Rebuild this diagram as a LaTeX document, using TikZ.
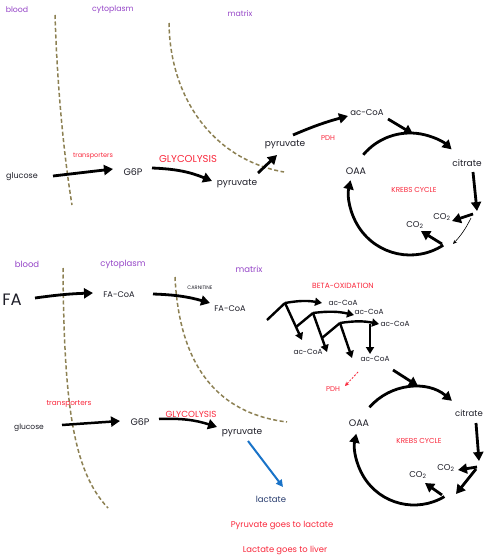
\documentclass[tikz,border=0pt]{standalone}
\usepackage{fontspec}
\setmainfont{Poppins}
\usetikzlibrary{arrows.meta}
\definecolor{membc}{RGB}{140,128,82}
\definecolor{purp}{RGB}{150,70,200}
\definecolor{redt}{RGB}{250,40,60}
\definecolor{txt}{RGB}{30,30,40}
\definecolor{blu}{RGB}{25,115,200}
\definecolor{navy}{RGB}{40,60,110}
\newcommand\fsz[1]{\fontsize{#1}{#1}\selectfont}
\begin{document}
\begin{tikzpicture}[x=1pt,y=-1pt,
  t/.style={inner sep=0pt, text=txt, font=\fsz{8.5}},
  comp/.style={inner sep=0pt, text=purp, font=\fsz{7.8}},
  enz/.style={inner sep=0pt, text=redt, font=\fsz{6.5}},
  memb/.style={draw=membc, line width=1.5pt, dash pattern=on 4pt off 2.5pt},
  arr/.style={draw=black, line width=2.8pt, -{Triangle[length=9pt,width=10pt]}},
  barr/.style={draw=black, line width=2.4pt, line join=round, -{Triangle[length=7pt,width=8pt]}},
  tarr/.style={draw=black, line width=0.6pt, -{Stealth[length=4pt,width=3.5pt]}}
]
\useasboundingbox[fill=white] (0,0) rectangle (489,559);

% membranes
\draw[memb] (55,15) .. controls (57,80) and (63,150) .. (72,205);
\draw[memb] (169,23) .. controls (170,100) and (215,160) .. (284,172);
\draw[memb] (63,268) .. controls (64,400) and (72,470) .. (108,508);
\draw[memb] (175,277) .. controls (180,380) and (230,415) .. (287,422);

% compartments
\node[comp] (bl1) at (17,10) {blood};
\node[comp] (cy1) at (113,10) {cytoplasm};
\node[comp] (mx1) at (240,14) {matrix};
\node[comp, font=\fsz{8.5}] (bl2) at (27,264) {blood};
\node[comp, font=\fsz{8.5}] (cy2) at (123,264) {cytoplasm};
\node[comp, font=\fsz{8.5}] (mx2) at (249,269) {matrix};

% ---------- top panel ----------
\node[t, font=\fsz{8}] (glu1) at (22,177) {glucose};
\node[t, font=\fsz{9.5}] (g6p1) at (133,172) {G6P};
\node[t, font=\fsz{9}] (pyr1) at (237,184) {pyruvate};
\node[t, font=\fsz{9}] (pyr2) at (285,145) {pyruvate};
\node[t] (acoa1) at (367,113) {ac-CoA};
\node[t, font=\fsz{9}] (cit1) at (467,163) {citrate};
\node[t, font=\fsz{9.5}] (oaa1) at (356,171) {OAA};
\node[t] (co2a) at (442,217) {CO\textsubscript{2}};
\node[t] (co2b) at (415,225) {CO\textsubscript{2}};
\node[enz] (tr1) at (93,156) {transporters};
\node[enz, font=\fsz{10}] (gly1) at (188,159) {GLYCOLYSIS};
\node[enz, font=\fsz{7}] (pdh1) at (328,138) {PDH};
\node[enz, font=\fsz{7.2}] (kc1) at (414,190) {KREBS CYCLE};

\coordinate (a1s) at (53,176); \coordinate (a1e) at (113,169);
\draw[arr] (a1s) -- (a1e);
\coordinate (a2s) at (152,168); \coordinate (a2e) at (212,181);
\draw[arr] (a2s) to[bend left=10] (a2e);
\coordinate (a3s) at (258,173); \coordinate (a3e) at (277,155);
\draw[arr] (a3s) -- (a3e);
\coordinate (a4s) at (293,135); \coordinate (a4e) at (348,116);
\draw[arr] (a4s) to[bend left=4] (a4e);
\coordinate (a5s) at (388,119); \coordinate (a5e) at (413,134);
\draw[arr] (a5s) -- (a5e);

\coordinate (K1) at (410,194);
\draw[arr] (K1) ++(-140:61) arc[start angle=-140, end angle=-47, radius=61];
\coordinate (a6s) at (473,172); \coordinate (a6e) at (477,211);
\draw[arr] (a6s) -- (a6e);
\coordinate (a7s) at (473,214); \coordinate (a7e) at (452,221);
\draw[arr] (a7s) -- (a7e);
\coordinate (a8s) at (471,218); \coordinate (a8e) at (453,244);
\draw[tarr] (a8s) to[bend left=8] (a8e);
\draw[arr] (K1) ++(57:61) arc[start angle=57, end angle=193, radius=61];
\coordinate (a9s) at (442,244); \coordinate (a9e) at (421,231);
\draw[arr] (a9s) -- (a9e);

% ---------- bottom panel ----------
\node[t, font=\fsz{16.5}] (fa) at (12,300) {FA};
\node[t, font=\fsz{8.2}] (facoa1) at (119,295) {FA-CoA};
\node[inner sep=0pt, text=txt, font=\fsz{5}] (carn) at (200,288) {CARNITINE};
\node[t, font=\fsz{8.2}] (facoa2) at (230,309) {FA-CoA};
\node[enz, font=\fsz{7.5}] (beta) at (343,286) {BETA-OXIDATION};
\node[t, font=\fsz{7.4}] (ac1) at (343,303) {ac-CoA};
\node[t, font=\fsz{7.4}] (ac2) at (369,312) {ac-CoA};
\node[t, font=\fsz{7.4}] (ac3) at (395,324) {ac-CoA};
\node[t, font=\fsz{7.4}] (ac4) at (308,352) {ac-CoA};
\node[t, font=\fsz{7.4}] (ac5) at (375,359) {ac-CoA};
\node[enz, font=\fsz{7}] (pdh2) at (333,389) {PDH};

\coordinate (b1s) at (35,298); \coordinate (b1e) at (93,293);
\draw[arr] (b1s) to[bend left=3] (b1e);
\coordinate (b2s) at (153,294); \coordinate (b2e) at (210,303);
\draw[arr] (b2s) to[bend left=7] (b2e);

% beta-oxidation spiral
\coordinate (p0) at (267,320);
\coordinate (p1) at (285,303); \coordinate (d1) at (302,340);
\coordinate (p2) at (313,313); \coordinate (d2) at (327,352);
\coordinate (p3) at (340,323); \coordinate (d3) at (352,358);
\coordinate (r1) at (322,303); \coordinate (r2) at (354,315); \coordinate (r3) at (379,324);
\coordinate (v3) at (370,324); \coordinate (v3e) at (370,354);
\draw[barr, -] (p0) -- (p1);
\draw[barr] (p1) to[bend left=10] (r1);
\draw[barr] (p1) -- (d1);
\draw[barr, -] (296,327) -- (p2);
\draw[barr] (p2) to[bend left=10] (r2);
\draw[barr] (p2) -- (d2);
\draw[barr, -] (322,338) -- (p3);
\draw[barr] (p3) to[bend left=10] (r3);
\draw[barr] (p3) -- (d3);
\draw[barr] (v3) -- (v3e);

\coordinate (pd1) at (358,372); \coordinate (pd2) at (345,386);
\draw[draw=redt, line width=0.8pt, dash pattern=on 2pt off 1.5pt, -{Stealth[length=4pt,width=4pt]}] (pd1) -- (pd2);

% lower Krebs
\node[t, font=\fsz{9.5}] (oaa2) at (359,423) {OAA};
\node[t] (cit2) at (469,413) {citrate};
\node[enz, font=\fsz{7.2}] (kc2) at (419,441) {KREBS CYCLE};
\node[t] (co2c) at (446,468) {CO\textsubscript{2}};
\node[t] (co2d) at (418,475) {CO\textsubscript{2}};
\coordinate (K2) at (414,446);
\coordinate (c1s) at (393,370); \coordinate (c1e) at (418,386);
\draw[arr] (c1s) -- (c1e);
\draw[arr] (K2) ++(-139:59) arc[start angle=-139, end angle=-50, radius=59];
\coordinate (c2s) at (476,423); \coordinate (c2e) at (479,461);
\draw[arr] (c2s) -- (c2e);
\coordinate (c3s) at (477,467); \coordinate (c3e) at (458,470);
\draw[arr] (c3s) -- (c3e);
\coordinate (c4s) at (476,469); \coordinate (c4e) at (456,494);
\draw[arr] (c4s) -- (c4e);
\draw[arr] (K2) ++(59:59) arc[start angle=59, end angle=192, radius=59];
\coordinate (c5s) at (442,495); \coordinate (c5e) at (425,483);
\draw[arr] (c5s) -- (c5e);

% lower glycolysis
\node[enz, font=\fsz{7.3}] (tr2) at (69,404) {transporters};
\node[t, font=\fsz{7.5}] (glu2) at (29,428) {glucose};
\node[t, font=\fsz{9.5}] (g6p2) at (140,422) {G6P};
\node[enz, font=\fsz{8.8}] (gly2) at (191,414) {GLYCOLYSIS};
\node[t, font=\fsz{9}] (pyr3) at (242,433) {pyruvate};
\node[t, text=navy] (lac) at (271,499) {lactate};
\coordinate (e1s) at (62,425); \coordinate (e1e) at (120,421);
\draw[arr, line width=2.5pt] (e1s) -- (e1e);
\coordinate (e2s) at (159,419); \coordinate (e2e) at (217,427);
\draw[arr, line width=2.5pt] (e2s) to[bend left=10] (e2e);
\coordinate (e3s) at (248,441); \coordinate (e3e) at (283,487);
\draw[draw=blu, line width=2pt, -{Triangle[length=7pt,width=7pt]}] (e3s) -- (e3e);

\node[enz, font=\fsz{8.4}] (n1) at (282,526) {Pyruvate goes to lactate};
\node[enz, font=\fsz{8.4}] (n2) at (285,550) {Lactate goes to liver};
\end{tikzpicture}
\end{document}
